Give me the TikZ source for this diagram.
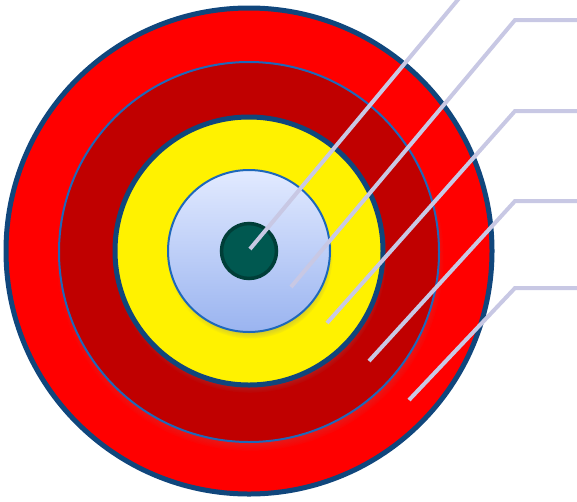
\documentclass[tikz,border=0pt]{standalone}
\usepackage{tikz}
\usetikzlibrary{positioning,shadows,fadings}
\definecolor{rimblue}{RGB}{16,70,124}
\definecolor{thinblue}{RGB}{30,104,186}
\definecolor{darkred}{RGB}{192,0,0}
\definecolor{bullgreen}{RGB}{0,88,80}
\definecolor{bullrim}{RGB}{0,62,56}
\definecolor{leadgray}{RGB}{200,200,228}
\definecolor{paletop}{RGB}{226,234,255}
\definecolor{palebot}{RGB}{154,180,240}
\tikzset{
  ring/.style={circle, draw=rimblue, line width=5pt, inner sep=0pt, outer sep=0pt},
  thinring/.style={circle, draw=thinblue, line width=2pt, inner sep=0pt, outer sep=0pt},
  softshadow/.style={circular drop shadow={shadow xshift=1pt, shadow yshift=-5pt, shadow scale=1.02, opacity=0.6}},
  leader/.style={draw=leadgray, line width=4pt, line join=miter}
}
\begin{document}
\begin{tikzpicture}[x=1pt, y=-1pt]
  \useasboundingbox (0,0) rectangle (577,501);
  % target rings, outside in
  \node[ring, fill=red, minimum size=486pt] (outer) at (249,251) {};
  \node[thinring, softshadow, fill=darkred, minimum size=380pt] (second) at (249,252) {};
  \node[ring, softshadow, fill=yellow, minimum size=268pt] (third) at (249,251) {};
  \node[thinring, softshadow, top color=paletop, bottom color=palebot, minimum size=162pt] (fourth) at (249,251) {};
  \node[circle, draw=bullrim, line width=3.5pt, fill=bullgreen, inner sep=0pt, minimum size=55pt] (bull) at (249,251) {};
  % leader lines
  \coordinate (t1) at (250,249);
  \coordinate (e1) at (461,-4);
  \coordinate (t2) at (291,287);
  \coordinate (k2) at (515,20);
  \coordinate (e2) at (580,20);
  \coordinate (t3) at (327,323);
  \coordinate (k3) at (515,111);
  \coordinate (e3) at (580,111);
  \coordinate (t4) at (369,361);
  \coordinate (k4) at (515,201);
  \coordinate (e4) at (580,201);
  \coordinate (t5) at (409,400);
  \coordinate (k5) at (515,288);
  \coordinate (e5) at (580,288);
  \draw[leader] (t1) -- (e1);
  \draw[leader] (t2) -- (k2) -- (e2);
  \draw[leader] (t3) -- (k3) -- (e3);
  \draw[leader] (t4) -- (k4) -- (e4);
  \draw[leader] (t5) -- (k5) -- (e5);
\end{tikzpicture}
\end{document}
